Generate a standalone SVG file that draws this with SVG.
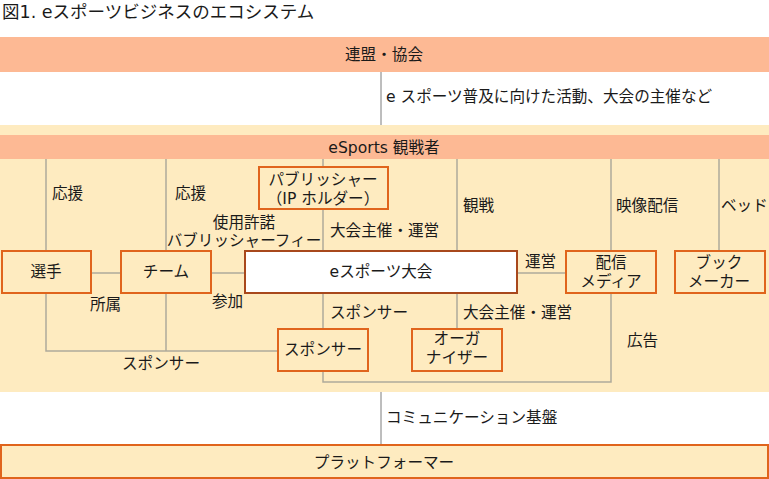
<svg xmlns="http://www.w3.org/2000/svg" width="769" height="479" viewBox="0 0 769 479">
<style>
text{font-family:"DejaVu Sans","Noto Sans CJK JP",sans-serif;font-size:15.6px;fill:#1a1a1a}
.c{text-anchor:middle}
.t{font-size:17.5px}
.band{fill:#FDB994}
.panel{fill:#FEEBC0}
.box{fill:#FEEBC0;stroke:#E0641C;stroke-width:2}
.main{fill:#ffffff;stroke:#A8481C;stroke-width:2}
.ln{fill:none;stroke:#AFAA9A;stroke-width:1.5}
.dk{fill:none;stroke:#7C7C7C;stroke-width:1}
</style>
<rect width="769" height="479" fill="#ffffff"/>
<text class="t" x="2" y="18">図1. eスポーツビジネスのエコシステム</text>

<g id="band-league">
<rect class="band" x="0" y="37" width="769" height="35"/>
<text class="c" x="384" y="60">連盟・協会</text>
</g>

<rect class="panel" x="0" y="125" width="769" height="267"/>

<g id="band-viewers">
<rect class="band" x="0" y="135" width="769" height="24"/>
<text class="c" x="384" y="153">eSports 観戦者</text>
</g>

<g id="connectors">
<path class="dk" d="M381 72V125"/>
<path class="dk" d="M381 392V445"/>
<path class="ln" d="M46 159V250M166 159V250M323 159V167M457 159V250M611 159V250M719 159V250"/>
<path class="ln" d="M91 273H121M211 273H245M517 273H565"/>
<path class="ln" d="M323 209V250"/>
<path class="ln" d="M46 293V351H278M166 293V351"/>
<path class="ln" d="M323 293V328M457 293V328"/>
<path class="ln" d="M323 371V382H611V293"/>
</g>

<g id="labels">
<text x="386" y="102">e スポーツ普及に向けた活動、大会の主催など</text>
<text x="52" y="199">応援</text>
<text x="175" y="199">応援</text>
<text class="c" x="244" y="228">使用許諾</text>
<text class="c" x="244" y="246">バブリッシャーフィー</text>
<text x="330" y="236">大会主催・運営</text>
<text x="463" y="211">観戦</text>
<text x="616" y="211">映像配信</text>
<text x="721" y="211">ベッド</text>
<text x="525" y="267">運営</text>
<text x="90" y="310">所属</text>
<text x="212" y="307">参加</text>
<text x="330" y="318">スポンサー</text>
<text x="463" y="318">大会主催・運営</text>
<text x="627" y="346">広告</text>
<text x="122" y="369">スポンサー</text>
<text x="386" y="423">コミュニケーション基盤</text>
</g>

<g id="node-player">
<rect class="box" x="2" y="251" width="89" height="42"/>
<text class="c" x="46" y="277">選手</text>
</g>
<g id="node-team">
<rect class="box" x="121" y="251" width="90" height="42"/>
<text class="c" x="166" y="277">チーム</text>
</g>
<g id="node-tournament">
<rect class="main" x="245" y="251" width="272" height="42"/>
<text class="c" x="381" y="277">eスポーツ大会</text>
</g>
<g id="node-publisher">
<rect class="box" x="259" y="167" width="129" height="42"/>
<text class="c" x="323" y="185">パブリッシャー</text>
<text class="c" x="323" y="204">（IP ホルダー）</text>
</g>
<g id="node-media">
<rect class="box" x="566" y="251" width="90" height="42"/>
<text class="c" x="611" y="268">配信</text>
<text class="c" x="611" y="287">メディア</text>
</g>
<g id="node-bookmaker">
<rect class="box" x="675" y="251" width="90" height="42"/>
<text class="c" x="719" y="268">ブック</text>
<text class="c" x="719" y="287">メーカー</text>
</g>
<g id="node-sponsor">
<rect class="box" x="278" y="329" width="90" height="42"/>
<text class="c" x="323" y="355">スポンサー</text>
</g>
<g id="node-organizer">
<rect class="box" x="412" y="329" width="90" height="42"/>
<text class="c" x="457" y="344">オーガ</text>
<text class="c" x="457" y="363">ナイザー</text>
</g>

<g id="node-platform">
<rect class="box" x="1" y="445" width="767" height="33"/>
<text class="c" x="384" y="468">プラットフォーマー</text>
</g>
</svg>
